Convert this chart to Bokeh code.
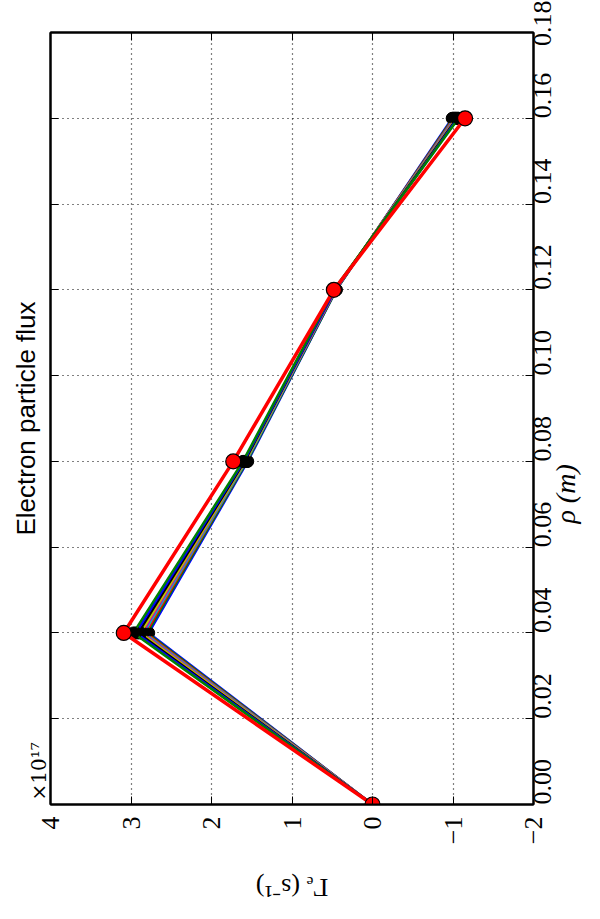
import math
from bokeh.plotting import figure
from bokeh.models import (Range1d, LinearAxis, FixedTicker, Title,
                          PrintfTickFormatter, CustomJSTickFormatter)
from bokeh.embed import file_html
from bokeh.resources import INLINE

# ---- data (Gamma_e in units of 1e17 s^-1) ----
rho = [0.00, 0.04, 0.08, 0.12, 0.16]
series_vals = [
    [0.0, 2.78, 1.55, 0.45, -0.99],
    [0.0, 2.80, 1.56, 0.45, -1.00],
    [0.0, 2.82, 1.57, 0.46, -1.01],
    [0.0, 2.84, 1.57, 0.46, -1.02],
    [0.0, 2.86, 1.58, 0.46, -1.03],
    [0.0, 2.88, 1.58, 0.47, -1.04],
    [0.0, 2.91, 1.59, 0.47, -1.05],
    [0.0, 2.94, 1.60, 0.47, -1.06],
    [0.0, 2.97, 1.61, 0.48, -1.07],
]
final_vals = [0.0, 3.09, 1.73, 0.48, -1.15]
colors = ["#0000ff", "#008000", "#ff0000", "#00bfbf", "#bf00bf",
          "#bfbf00", "#000000", "#0000ff", "#008000"]
gamma_ticks = [4, 3, 2, 1, 0, -1, -2]
rho_ticks = [0.00, 0.02, 0.04, 0.06, 0.08, 0.10, 0.12, 0.14, 0.16, 0.18]

title_text = "Electron particle flux"
offset_text = "×10¹⁷"
xlabel_text = "ρ (m)"
xlabel_pos = [0.0655]
ylabel_text = "Γₑ (s⁻¹)"
ylabel_pos = [1.45]

p = figure(width=600, height=919, output_backend="svg", toolbar_location=None,
           x_range=Range1d(4, -2), y_range=Range1d(0, 0.18),
           x_axis_location="below", y_axis_location="right",
           min_border_left=50, min_border_top=32, min_border_right=67,
           min_border_bottom=113)

p.outline_line_color = "black"
p.outline_line_width = 2

serif = "Liberation Serif"


def const_fmt(s):
    return CustomJSTickFormatter(code="return %r;" % s)


xa = p.xaxis[0]
xa.ticker = FixedTicker(ticks=gamma_ticks)
xa.major_label_orientation = math.pi / 2
xa.formatter = CustomJSTickFormatter(
    code="return tick < 0 ? '\u2212' + Math.abs(tick) : tick.toString();")
xa.major_label_standoff = 12

ya = p.yaxis[0]
ya.ticker = FixedTicker(ticks=rho_ticks)
ya.major_label_orientation = math.pi / 2
ya.formatter = PrintfTickFormatter(format="%.2f")
ya.major_label_standoff = 9

for ax in (xa, ya):
    ax.axis_line_color = "black"
    ax.axis_line_width = 2
    ax.major_tick_in = 8
    ax.major_tick_out = 0
    ax.major_tick_line_color = "black"
    ax.major_tick_line_width = 1
    ax.minor_tick_line_color = None
    ax.major_label_text_font = serif
    ax.major_label_text_font_size = "26px"
    ax.major_label_text_color = "black"

# extra axes on top / left carrying the inward ticks
top = LinearAxis(ticker=FixedTicker(ticks=gamma_ticks), formatter=const_fmt(""),
                 major_tick_in=8, major_tick_out=0, minor_tick_line_color=None,
                 axis_line_color="black", axis_line_width=2, major_label_standoff=0)
p.add_layout(top, "above")
left = LinearAxis(ticker=FixedTicker(ticks=rho_ticks), formatter=const_fmt(""),
                  major_tick_in=8, major_tick_out=0, minor_tick_line_color=None,
                  axis_line_color="black", axis_line_width=2, major_label_standoff=0)
p.add_layout(left, "left")

# offset text (x1e17) at the bottom end of the left side
off_title = Title(text=offset_text, align="left", vertical_align="middle",
                  standoff=-2, offset=4, text_font="DejaVu Serif",
                  text_font_size="20px", text_font_style="normal",
                  text_color="black")
p.add_layout(off_title, "left")

# outer left: title as an axis label
tax = LinearAxis(ticker=FixedTicker(ticks=[]), formatter=const_fmt(""),
                 major_tick_in=0, major_tick_out=0, major_tick_line_color=None,
                 minor_tick_line_color=None, axis_line_color=None,
                 major_label_standoff=0,
                 axis_label=title_text, axis_label_standoff=-14,
                 axis_label_text_font="Liberation Sans",
                 axis_label_text_font_size="26px",
                 axis_label_text_font_style="normal",
                 axis_label_text_color="black")
p.add_layout(tax, "left")


def text_axis(ticks, text, orient, standoff, size, style="normal", font=serif):
    return LinearAxis(ticker=FixedTicker(ticks=ticks), formatter=const_fmt(text),
                      major_tick_in=0, major_tick_out=0, major_tick_line_color=None,
                      minor_tick_line_color=None, axis_line_color=None,
                      major_label_orientation=orient, major_label_standoff=standoff,
                      major_label_text_font=font, major_label_text_font_size=size,
                      major_label_text_font_style=style,
                      major_label_text_color="black")


# right side axis title
rlab = text_axis(xlabel_pos, xlabel_text, math.pi / 2, 3, "28px", style="italic")
p.add_layout(rlab, "right")

# bottom axis title (upside down, as in the rotated original)
blab = text_axis(ylabel_pos, ylabel_text, math.pi, 40, "26px")
p.add_layout(blab, "below")

for g in p.grid:
    g.grid_line_color = "black"
    g.grid_line_dash = "1 4"
    g.grid_line_width = 1.2
p.xgrid.ticker = FixedTicker(ticks=gamma_ticks)
p.ygrid.ticker = FixedTicker(ticks=rho_ticks)

for vals, c in zip(series_vals, colors):
    p.line(vals, rho, line_color=c, line_width=2.5)
    p.scatter(vals, rho, size=12, fill_color="black", line_color="black")

p.line(final_vals, rho, line_color="#ff0000", line_width=3.5)
p.scatter(final_vals, rho, size=15, fill_color="#ff0000", line_color="black",
          line_width=1.2)

open("out.html", "w").write(file_html(p, INLINE))
